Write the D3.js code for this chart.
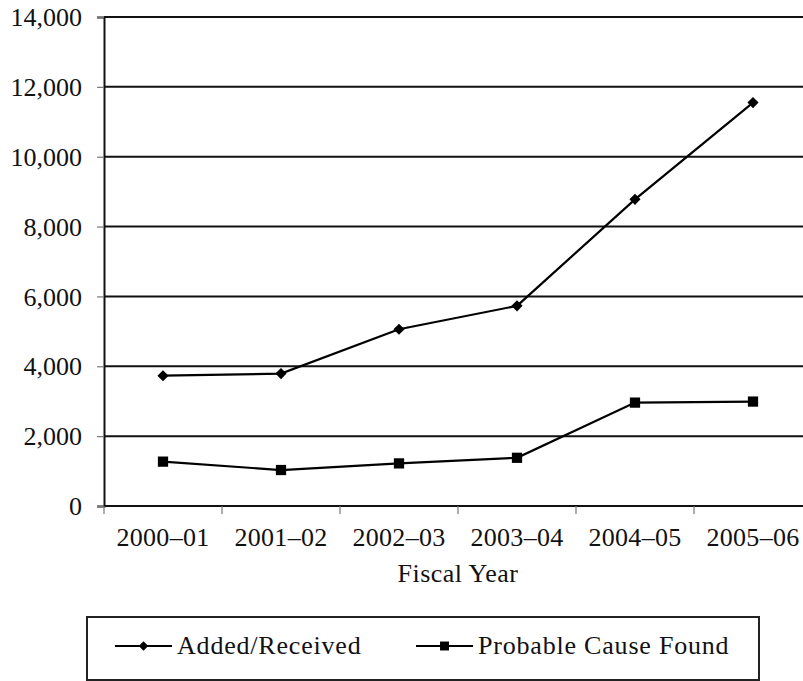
<!DOCTYPE html>
<html>
<head>
<meta charset="utf-8">
<script src="https://cdn.jsdelivr.net/npm/d3@7/dist/d3.min.js"></script>
<style>
  html, body { margin: 0; padding: 0; background: #fff; overflow: hidden; }
  svg { display: block; }
</style>
</head>
<body>
<svg id="chart" width="803" height="681"></svg>
<script>
// Chart data
const years = ['2000–01', '2001–02', '2002–03', '2003–04', '2004–05', '2005–06'];
const addedReceived = [3730, 3790, 5060, 5730, 8780, 11550];
const probableCause = [1270, 1030, 1220, 1380, 2960, 2990];
const yTicks = [0, 2000, 4000, 6000, 8000, 10000, 12000, 14000];

const FONT = '"Liberation Serif", "Times New Roman", serif';
const FONT_SIZE = '26px';

const svg = d3.select('#chart');

// plot area (right side runs off the page like the original)
const plotLeft = 104, plotRight = 812, plotTop = 17, plotBottom = 506;

const x = d3.scaleBand().domain(years).range([plotLeft, plotRight]);
const y = d3.scaleLinear().domain([0, 14000]).range([plotBottom, plotTop]);

function styleText(sel, spacing) {
  return sel.style('font-family', FONT).style('font-size', FONT_SIZE)
    .style('letter-spacing', spacing || '0px').style('fill', '#111');
}

// gridlines
svg.append('g')
  .selectAll('line')
  .data(yTicks)
  .join('line')
  .attr('x1', plotLeft).attr('x2', plotRight)
  .attr('y1', d => y(d)).attr('y2', d => y(d))
  .attr('stroke', '#111')
  .attr('stroke-width', 2);

// y axis
const yAxis = svg.append('g')
  .attr('transform', `translate(${plotLeft},0)`)
  .call(d3.axisLeft(y).tickValues(yTicks).tickSize(7).tickPadding(15)
    .tickFormat(d3.format(',')));
yAxis.select('.domain').attr('stroke', '#111').attr('stroke-width', 2);
yAxis.selectAll('.tick line').attr('stroke', '#777').attr('stroke-width', 1.2);
styleText(yAxis.selectAll('text')).attr('dy', '0.33em');

// x axis: ticks at band boundaries
const xAxis = svg.append('g')
  .attr('transform', `translate(0,${plotBottom})`);
xAxis.selectAll('line')
  .data(d3.range(years.length + 1))
  .join('line')
  .attr('x1', i => plotLeft + i * x.bandwidth())
  .attr('x2', i => plotLeft + i * x.bandwidth())
  .attr('y1', 0).attr('y2', 8)
  .attr('stroke', '#777')
  .attr('stroke-width', 1.2);
styleText(xAxis.selectAll('text')
  .data(years)
  .join('text')
  .attr('x', d => x(d) + x.bandwidth() / 2)
  .attr('y', 40)
  .attr('text-anchor', 'middle')
  .text(d => d), '0.3px');

styleText(svg.append('text')
  .attr('x', (plotLeft + plotRight) / 2)
  .attr('y', 582)
  .attr('text-anchor', 'middle')
  .text('Fiscal Year'), '0.5px');

// series
const line = d3.line()
  .x((d, i) => x(years[i]) + x.bandwidth() / 2)
  .y(d => y(d));

// diamond = square turned 45deg (d3's diamond is too narrow)
const series = [
  { name: 'Added/Received', values: addedReceived, size: 62, rotate: 45, legendSize: 45 },
  { name: 'Probable Cause Found', values: probableCause, size: 105, rotate: 0, legendSize: 80 }
];

series.forEach(s => {
  svg.append('path')
    .datum(s.values)
    .attr('d', line)
    .attr('fill', 'none')
    .attr('stroke', '#000')
    .attr('stroke-width', 2.2);
  svg.append('g')
    .selectAll('path')
    .data(s.values)
    .join('path')
    .attr('transform', (d, i) =>
      `translate(${x(years[i]) + x.bandwidth() / 2},${y(d)}) rotate(${s.rotate})`)
    .attr('d', d3.symbol().type(d3.symbolSquare).size(s.size))
    .attr('fill', '#000');
});

// legend
const legend = svg.append('g');
legend.append('rect')
  .attr('x', 87).attr('y', 617)
  .attr('width', 672).attr('height', 63)
  .attr('fill', 'none')
  .attr('stroke', '#222')
  .attr('stroke-width', 2);

const legendX = [115, 416];
series.forEach((s, i) => {
  const g = legend.append('g').attr('transform', `translate(${legendX[i]},646)`);
  g.append('line')
    .attr('x1', 0).attr('x2', 57)
    .attr('stroke', '#000').attr('stroke-width', 2.2);
  g.append('path')
    .attr('transform', `translate(28.5,0) rotate(${s.rotate})`)
    .attr('d', d3.symbol().type(d3.symbolSquare).size(s.legendSize))
    .attr('fill', '#000');
  styleText(g.append('text')
    .attr('x', 62)
    .attr('y', 8)
    .text(s.name), '0.8px');
});
</script>
</body>
</html>
